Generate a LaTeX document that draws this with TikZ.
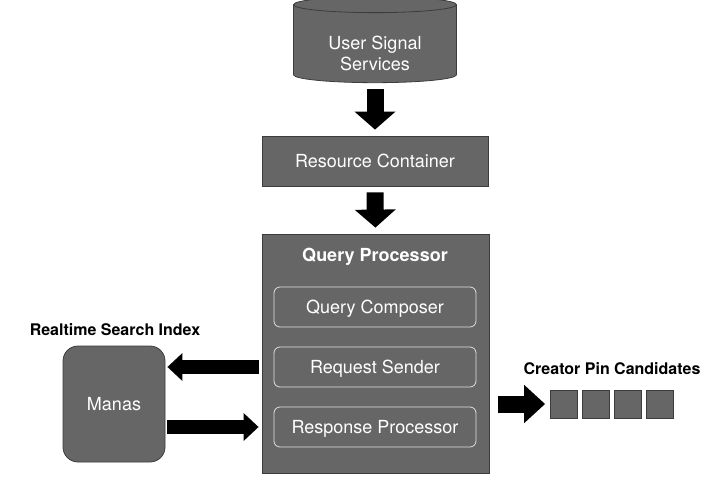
\documentclass[tikz,border=0pt]{standalone}
\usepackage{fontspec}
\setmainfont{TeX Gyre Heros}
\usetikzlibrary{shapes.geometric,arrows.meta}
\definecolor{boxgray}{HTML}{666666}
\definecolor{edgegray}{HTML}{3C3C3C}

\begin{document}
\begin{tikzpicture}[x=1pt,y=-1pt,
    box/.style={draw=edgegray,line width=0.8pt,fill=boxgray,text=white,
      font=\fontsize{18}{21}\selectfont,inner sep=0pt,
      text height=13pt,text depth=0pt},
    store/.style={draw=edgegray,line width=0.8pt,fill=boxgray,
      font=\fontsize{18}{21}\selectfont,align=center,
      cylinder,shape border rotate=90,aspect=0.16},
    part/.style={draw=white!88!black,line width=0.8pt,rounded corners=6pt,
      text=white,font=\fontsize{18}{21}\selectfont,
      text height=13pt,text depth=0pt,
      minimum width=202pt,minimum height=40pt,inner sep=0pt},
    caption/.style={font=\bfseries\fontsize{16}{19}\selectfont},
    downarrow/.style={line width=17pt,-{Triangle[length=18pt,width=40pt]},
      shorten <=6pt,shorten >=6pt},
    sidearrow/.style={line width=13.5pt,-{Triangle[length=15pt,width=27pt]}},
    pin/.style={box,minimum width=27pt,minimum height=28pt}]
  \useasboundingbox (0,0) rectangle (721,485);

  % sources and container
  \node[store,minimum width=163pt,minimum height=86pt] (usr) at (375,45)
    {\phantom{User Signal}\\\phantom{Services}};
  \node[text=white,font=\fontsize{18}{21}\selectfont,align=center] (usrtxt)
    at (375,53) {User Signal\\Services};
  \node[box,minimum width=226pt,minimum height=50pt] (res) at (375,161)
    {Resource Container};

  % query processor
  \node[box,minimum width=227pt,minimum height=239pt] (qp) at (375.5,353.5) {};
  \node[text=white,font=\bfseries\fontsize{18}{21}\selectfont,
    text height=13pt,text depth=0pt,inner sep=0pt] (qptitle) at (375,255)
    {Query Processor};
  \node[part] (cmp) at (375,307) {Query Composer};
  \node[part] (snd) at (375,367) {Request Sender};
  \node[part] (rsp) at (375,427) {Response Processor};

  % index
  \node[box,rounded corners=15pt,minimum width=102pt,minimum height=116pt]
    (manas) at (114,404) {Manas};
  \node[caption] (rsi) at (115,330) {Realtime Search Index};

  % candidates
  \node[caption] (cpc) at (612,369) {Creator Pin Candidates};
  \foreach \i in {1,...,4}
    \node[pin] (pin\i) at ({564+32*(\i-1)},404) {};

  \draw[downarrow] (usr.south) -- (res.north);
  \draw[downarrow] (res.south) -- (qp.north);
  \draw[sidearrow,shorten <=3pt,shorten >=2pt] (qp.west |- snd) -- (manas.east |- snd);
  \draw[sidearrow,shorten <=2pt,shorten >=3pt] (manas.east |- rsp) -- (qp.west |- rsp);
  \draw[line width=17pt,-{Triangle[length=21pt,width=37pt]},
    shorten <=9pt,shorten >=5pt] (qp.east |- pin1) -- (pin1.west);
\end{tikzpicture}
\end{document}
